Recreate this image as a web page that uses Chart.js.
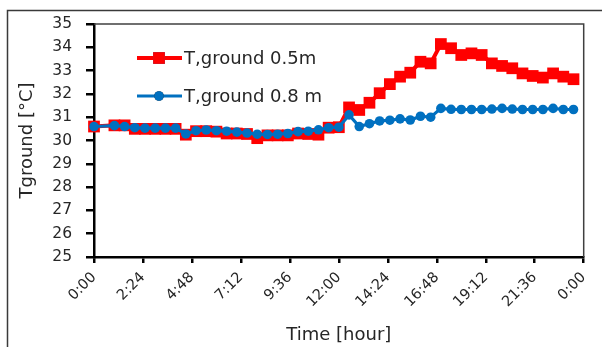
<!DOCTYPE html>
<html>
<head>
<meta charset="utf-8">
<script src="https://cdn.jsdelivr.net/npm/chart.js@4/dist/chart.umd.min.js"></script>
<style>
  html, body { margin: 0; padding: 0; background: #fff; overflow: hidden; }
  canvas { display: block; }
</style>
</head>
<body>
<canvas id="c" width="602" height="347"></canvas>
<script>
// Measurement times in hours since midnight
const timeHours = [0, 1, 1.5, 2, 2.5, 3, 3.5, 4, 4.5, 5, 5.5, 6, 6.5, 7, 7.5, 8, 8.5, 9, 9.5,
  10, 10.5, 11, 11.5, 12, 12.5, 13, 13.5, 14, 14.5, 15, 15.5, 16, 16.5, 17, 17.5, 18, 18.5,
  19, 19.5, 20, 20.5, 21, 21.5, 22, 22.5, 23, 23.5];

// Ground temperature at 0.5 m depth [°C]
const ground05 = [30.60, 30.65, 30.65, 30.50, 30.50, 30.50, 30.50, 30.50, 30.25, 30.40, 30.40,
  30.38, 30.30, 30.30, 30.28, 30.10, 30.22, 30.22, 30.22, 30.30, 30.28, 30.25, 30.55, 30.57,
  31.42, 31.31, 31.62, 32.03, 32.42, 32.74, 32.91, 33.38, 33.31, 34.14, 33.96, 33.67, 33.74,
  33.67, 33.31, 33.20, 33.10, 32.88, 32.77, 32.70, 32.88, 32.74, 32.63];

// Ground temperature at 0.8 m depth [°C]
const ground08 = [30.60, 30.64, 30.60, 30.55, 30.53, 30.53, 30.53, 30.53, 30.28, 30.42, 30.45,
  30.42, 30.40, 30.36, 30.32, 30.27, 30.26, 30.27, 30.30, 30.38, 30.40, 30.46, 30.55, 30.57,
  31.10, 30.60, 30.72, 30.84, 30.87, 30.93, 30.88, 31.04, 31.00, 31.38, 31.34, 31.33, 31.33,
  31.33, 31.35, 31.38, 31.35, 31.33, 31.33, 31.33, 31.38, 31.33, 31.33];

const seriesNames = ['T,ground 0.5m', 'T,ground 0.8 m'];

const xTickValues = [0, 2.4, 4.8, 7.2, 9.6, 12, 14.4, 16.8, 19.2, 21.6, 24];
const xTickLabels = ['0:00', '2:24', '4:48', '7:12', '9:36', '12:00', '14:24', '16:48', '19:12', '21:36', '0:00'];
const yTickValues = [25, 26, 27, 28, 29, 30, 31, 32, 33, 34, 35];

const FONT = 'DejaVu Sans';
const TEXT = '#262626';

const toPoints = (ys) => timeHours.map((t, i) => ({ x: t, y: ys[i] }));

// Outer frame of the figure, and the thin top/right edges of the plot box
const framePlugin = {
  id: 'frame',
  beforeDraw(chart) {
    const ctx = chart.ctx;
    ctx.save();
    ctx.fillStyle = '#fff';
    ctx.fillRect(0, 0, chart.width, chart.height);
    ctx.strokeStyle = '#3a3a3a';
    ctx.lineWidth = 1.5;
    ctx.strokeRect(7.5, 10.5, 800, 800);
    ctx.restore();
  },
  beforeDatasetsDraw(chart) {
    const { ctx, chartArea: a } = chart;
    ctx.save();
    ctx.strokeStyle = '#404040';
    ctx.lineWidth = 1.5;
    ctx.beginPath();
    ctx.moveTo(a.left, a.top);
    ctx.lineTo(a.right, a.top);
    ctx.lineTo(a.right, a.bottom);
    ctx.stroke();
    ctx.restore();
  }
};

// Legend drawn inside the plot area, upper left
const insideLegend = {
  id: 'insideLegend',
  afterDraw(chart) {
    const ctx = chart.ctx;
    const rows = [58, 96];
    ctx.save();
    chart.data.datasets.slice().sort((a, b) => a.legendRow - b.legendRow).forEach((ds, i) => {
      const y = rows[i];
      ctx.strokeStyle = ds.borderColor;
      ctx.lineWidth = ds.borderWidth;
      ctx.beginPath();
      ctx.moveTo(137, y);
      ctx.lineTo(182, y);
      ctx.stroke();
      Chart.helpers.drawPoint(ctx, {
        pointStyle: ds.pointStyle, radius: ds.pointRadius, borderWidth: 0
      }, 159, y);
      ctx.fillStyle = ds.pointBackgroundColor;
      ctx.fill();
      ctx.fillStyle = TEXT;
      ctx.font = '18px "' + FONT + '"';
      ctx.textBaseline = 'middle';
      ctx.textAlign = 'left';
      ctx.fillText(ds.label, 184, y + 1);
    });
    ctx.restore();
  }
};

new Chart(document.getElementById('c'), {
  type: 'line',
  data: {
    datasets: [
      {
        label: seriesNames[1],
        legendRow: 1,
        data: toPoints(ground08),
        borderColor: '#0070C0',
        backgroundColor: '#0070C0',
        pointBackgroundColor: '#0070C0',
        pointBorderWidth: 0,
        borderWidth: 3.2,
        pointStyle: 'circle',
        pointRadius: 4.8,
        tension: 0,
        clip: false,
        order: 0
      },
      {
        label: seriesNames[0],
        legendRow: 0,
        data: toPoints(ground05),
        borderColor: '#FF0000',
        backgroundColor: '#FF0000',
        pointBackgroundColor: '#FF0000',
        pointBorderWidth: 0,
        borderWidth: 4,
        pointStyle: 'rect',
        pointRadius: 8.3,
        tension: 0,
        clip: false,
        order: 1
      }
    ]
  },
  options: {
    responsive: false,
    animation: false,
    devicePixelRatio: 1,
    layout: { padding: { left: 0, top: 24, right: 12, bottom: 0 } },
    plugins: { legend: { display: false }, tooltip: { enabled: false } },
    scales: {
      x: {
        type: 'linear',
        min: 0,
        max: 24,
        afterFit(scale) { scale.height = 90; },
        afterBuildTicks(scale) { scale.ticks = xTickValues.map(v => ({ value: v })); },
        border: { display: true, color: '#000', width: 2.5 },
        grid: { drawOnChartArea: false, drawTicks: true, tickLength: 6, color: '#000', lineWidth: 2.5 },
        ticks: {
          autoSkip: false,
          minRotation: 45,
          maxRotation: 45,
          padding: 6,
          color: TEXT,
          font: { family: FONT, size: 14.5 },
          callback: (v, i) => xTickLabels[i]
        },
        title: {
          display: true,
          text: 'Time [hour]',
          color: TEXT,
          font: { family: FONT, size: 18 },
          padding: { top: 0, bottom: 1 }
        }
      },
      y: {
        type: 'linear',
        min: 25,
        max: 35,
        afterFit(scale) { scale.width = 94; },
        afterBuildTicks(scale) { scale.ticks = yTickValues.map(v => ({ value: v })); },
        border: { display: true, color: '#000', width: 2.5 },
        grid: { drawOnChartArea: false, drawTicks: true, tickLength: 8, color: '#000', lineWidth: 2.5 },
        ticks: {
          padding: 14,
          color: TEXT,
          font: { family: FONT, size: 15.5 },
          callback: (v) => String(v)
        },
        title: {
          display: true,
          text: 'Tground [°C]',
          color: TEXT,
          font: { family: FONT, size: 18 },
          padding: { top: 17, bottom: 0 }
        }
      }
    }
  },
  plugins: [framePlugin, insideLegend]
});
</script>
</body>
</html>
